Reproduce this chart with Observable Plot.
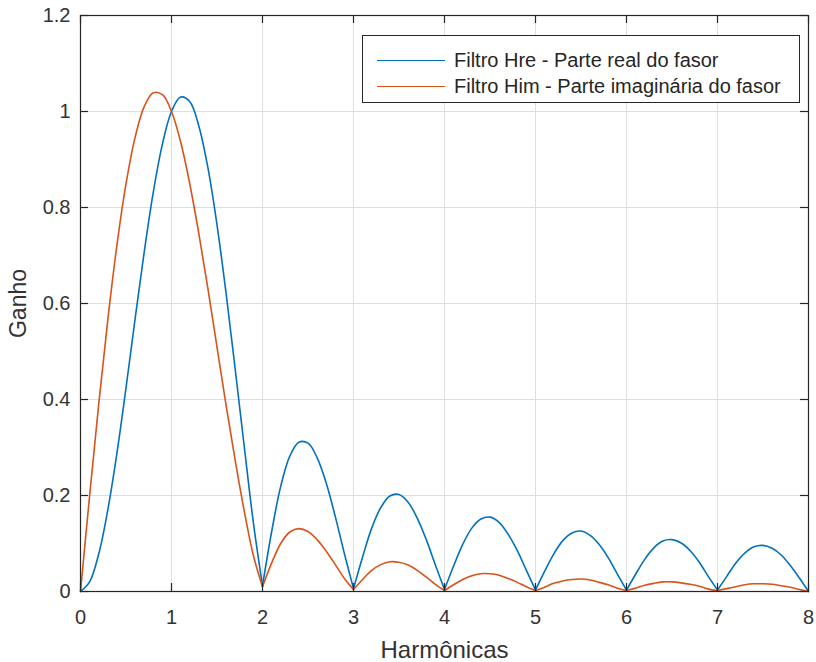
<!DOCTYPE html>
<html><head><meta charset="utf-8">
<script src="https://cdn.jsdelivr.net/npm/d3@7"></script>
<script src="https://cdn.jsdelivr.net/npm/@observablehq/plot@0.6"></script>
<style>
html,body{margin:0;padding:0;background:#fff;}
#wrap{position:relative;width:816px;height:662px;font-family:"Liberation Sans",Arial,sans-serif;}
#legend{position:absolute;left:362px;top:35px;width:436px;height:66px;border:1px solid #262626;background:#fff;}
.swatch{position:absolute;left:14px;width:68px;height:0;border-top:1.6px solid;}
.lab{position:absolute;left:91px;font-size:20px;color:#262626;white-space:nowrap;line-height:22px;}
</style></head>
<body><div id="wrap"></div>
<script>
const harmonics = [0,0.1,0.2,0.3,0.4,0.5,0.6,0.7,0.8,0.9,1,1.1,1.2,1.3,1.4,1.5,1.6,1.7,1.8,1.9,
2,2.1,2.2,2.3,2.4,2.5,2.6,2.7,2.8,2.9,3,3.1,3.2,3.3,3.4,3.5,3.6,3.7,3.8,3.9,
4,4.1,4.2,4.3,4.4,4.5,4.6,4.7,4.8,4.9,5,5.1,5.2,5.3,5.4,5.5,5.6,5.7,5.8,5.9,
6,6.1,6.2,6.3,6.4,6.5,6.6,6.7,6.8,6.9,7,7.1,7.2,7.3,7.4,7.5,7.6,7.7,7.8,7.9,8];
const hre = [0,0.020,0.078,0.170,0.288,0.424,0.568,0.707,0.832,0.932,1.000,1.030,1.021,0.970,0.883,0.764,0.621,0.463,0.301,0.143,
0.012,0.124,0.219,0.282,0.311,0.309,0.279,0.226,0.156,0.079,
0.006,0.072,0.132,0.175,0.199,0.202,0.186,0.153,0.108,0.055,
0.004,0.053,0.098,0.132,0.151,0.155,0.144,0.119,0.085,0.044,
0.003,0.042,0.078,0.106,0.122,0.126,0.117,0.098,0.070,0.036,
0.003,0.036,0.067,0.091,0.105,0.108,0.101,0.085,0.061,0.031,
0.003,0.031,0.059,0.080,0.093,0.096,0.090,0.076,0.054,0.028,
0];
const him = [0,0.199,0.390,0.566,0.721,0.849,0.946,1.010,1.039,1.035,1.000,0.937,0.850,0.746,0.631,0.509,0.388,0.273,0.167,0.075,
0.010,0.059,0.100,0.124,0.131,0.125,0.108,0.084,0.056,0.027,
0.004,0.025,0.044,0.056,0.062,0.061,0.055,0.044,0.030,0.015,
0.002,0.014,0.025,0.033,0.037,0.037,0.034,0.027,0.019,0.010,
0.002,0.009,0.017,0.022,0.025,0.026,0.024,0.019,0.014,0.007,
0.002,0.007,0.013,0.017,0.020,0.020,0.018,0.015,0.011,0.005,
0.002,0.006,0.010,0.014,0.016,0.016,0.015,0.012,0.009,0.004,
0];
// the curves have cusps at these harmonics (start of each lobe)
const lobeStarts = [0, 2, 3, 4, 5, 6, 7, 8];
const seriesNames = ["Filtro Hre - Parte real do fasor", "Filtro Him - Parte imaginária do fasor"];
const seriesColors = ["#0072BD", "#D95319"];
const xTicks = [0,1,2,3,4,5,6,7,8];
const xTickLabels = ["0","1","2","3","4","5","6","7","8"];
const yTicks = [0,0.2,0.4,0.6,0.8,1,1.2];
const yTickLabels = ["0","0.2","0.4","0.6","0.8","1","1.2"];
const xLabel = "Harmônicas";
const yLabel = "Ganho";

// one row per sample and lobe (cusp samples belong to both neighbouring lobes)
const data = [];
for (let k = 0; k < lobeStarts.length - 1; k++) {
  const s = lobeStarts[k], e = lobeStarts[k + 1];
  harmonics.forEach((h, i) => {
    if (h >= s - 1e-9 && h <= e + 1e-9) data.push({h, re: hre[i], im: him[i], lobe: k});
  });
}

const W = 816, H = 662, mL = 80, mR = 8, mT = 15, mB = 71;
const plotW = W - mL - mR, plotH = H - mT - mB, tickLen = 8;
const axisColor = "#262626";
const font = '"Liberation Sans", Arial, Helvetica, sans-serif';

const chart = Plot.plot({
  width: W, height: H,
  marginLeft: mL, marginRight: mR, marginTop: mT, marginBottom: mB,
  style: {fontFamily: font, fontSize: "20px", color: axisColor, background: "white", overflow: "visible"},
  x: {domain: [0, 8]},
  y: {domain: [0, 1.2]},
  marks: [
    Plot.gridX(xTicks, {stroke: "#dfdfdf", strokeOpacity: 1}),
    Plot.gridY(yTicks, {stroke: "#dfdfdf", strokeOpacity: 1}),
    Plot.line(data, {x: "h", y: "re", z: "lobe", curve: "catmull-rom", stroke: seriesColors[0], strokeWidth: 1.6}),
    Plot.line(data, {x: "h", y: "im", z: "lobe", curve: "catmull-rom", stroke: seriesColors[1], strokeWidth: 1.6}),
    Plot.frame({stroke: axisColor, strokeWidth: 1.2}),
    Plot.tickX(xTicks, {x: d => d, stroke: axisColor, strokeWidth: 1.2, insetTop: plotH - tickLen}),
    Plot.tickX(xTicks, {x: d => d, stroke: axisColor, strokeWidth: 1.2, insetBottom: plotH - tickLen}),
    Plot.tickY(yTicks, {y: d => d, stroke: axisColor, strokeWidth: 1.2, insetRight: plotW - tickLen}),
    Plot.tickY(yTicks, {y: d => d, stroke: axisColor, strokeWidth: 1.2, insetLeft: plotW - tickLen}),
    Plot.axisX(xTicks, {tickSize: 0, tickPadding: 18, fontSize: 20, fill: "#333",
      tickFormat: d => xTickLabels[xTicks.indexOf(d)], label: null}),
    Plot.axisY(yTicks, {tickSize: 0, tickPadding: 10, fontSize: 20, fill: "#333",
      tickFormat: d => yTickLabels[yTicks.indexOf(d)], label: null}),
    Plot.axisX([], {tickSize: 0, label: xLabel, labelAnchor: "center", labelArrow: "none",
      labelOffset: 66, fontSize: 24, fill: "#333"}),
    Plot.axisY([], {tickSize: 0, label: yLabel, labelAnchor: "center", labelArrow: "none",
      labelOffset: 71, fontSize: 23, fill: "#333"})
  ]
});

const wrap = document.getElementById("wrap");
wrap.appendChild(chart);

const legend = document.createElement("div");
legend.id = "legend";
seriesNames.forEach((name, i) => {
  const sw = document.createElement("div");
  sw.className = "swatch";
  sw.style.borderTopColor = seriesColors[i];
  sw.style.top = (i === 0 ? 24 : 50) + "px";
  const lab = document.createElement("div");
  lab.className = "lab";
  lab.textContent = name;
  lab.style.top = (i === 0 ? 13 : 39) + "px";
  legend.appendChild(sw);
  legend.appendChild(lab);
});
wrap.appendChild(legend);
</script></body></html>
